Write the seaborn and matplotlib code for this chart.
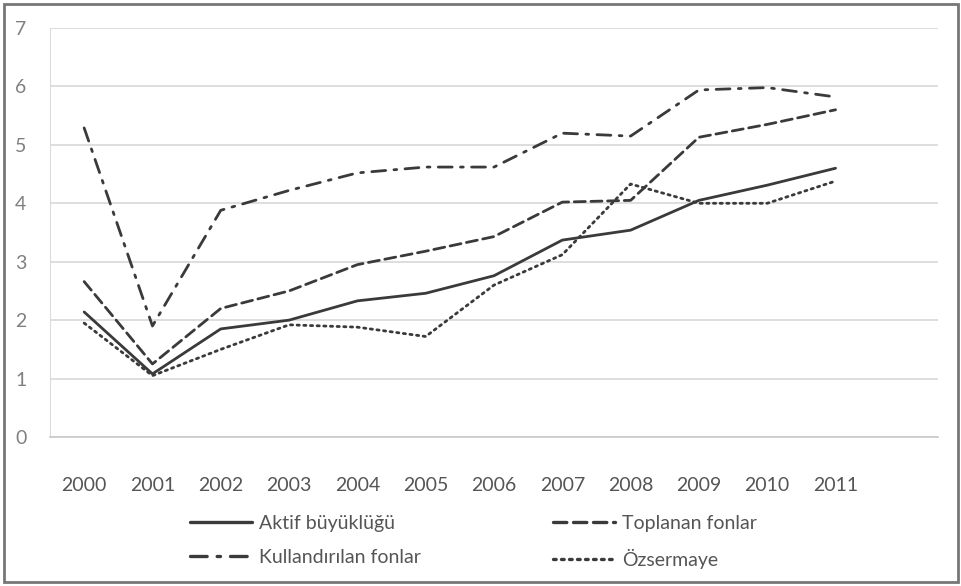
import matplotlib
matplotlib.use("Agg")
import matplotlib.pyplot as plt
from matplotlib.patches import Rectangle
import pandas as pd
import seaborn as sns

years = ["2000", "2001", "2002", "2003", "2004", "2005",
         "2006", "2007", "2008", "2009", "2010", "2011"]

aktif = [2.14, 1.08, 1.85, 2.0, 2.33, 2.46, 2.76, 3.37, 3.54, 4.05, 4.31, 4.6]
toplanan = [2.66, 1.25, 2.2, 2.5, 2.95, 3.18, 3.43, 4.02, 4.05, 5.13, 5.35, 5.6]
kullandirilan = [5.29, 1.9, 3.88, 4.22, 4.52, 4.62, 4.62, 5.2, 5.15, 5.94, 5.98, 5.82]
ozsermaye = [1.95, 1.05, 1.5, 1.92, 1.88, 1.72, 2.6, 3.12, 4.33, 4.0, 4.0, 4.38]

series_names = ["Aktif büyüklüğü", "Toplanan fonlar",
                "Kullandırılan fonlar", "Özsermaye"]

rows = []
for name, vals in zip(series_names, [aktif, toplanan, kullandirilan, ozsermaye]):
    for i, v in enumerate(vals):
        rows.append({"pos": i, "value": v, "series": name})
df = pd.DataFrame(rows)

sns.set_style("white")
plt.rcParams["font.family"] = ["Lato", "DejaVu Sans"]

fig = plt.figure(figsize=(9.62, 5.86), dpi=100)
ax = fig.add_axes([50 / 962, 1 - 437 / 586, 888 / 962, 409 / 586])

line_color = "#3a3a3a"
dashes = {
    "Aktif büyüklüğü": "",
    "Toplanan fonlar": (4, 2),
    "Kullandırılan fonlar": (5, 3, 1, 3),
    "Özsermaye": (0.8, 1.6),
}

sns.lineplot(
    data=df, x="pos", y="value", style="series",
    dashes=dashes, color=line_color, linewidth=2.0,
    style_order=series_names, legend=False, ax=ax
)

for ln in ax.get_lines():
    ln.set_dash_capstyle("round")

ax.set_xlim(-0.5, 12.5)
ax.set_ylim(0, 7)
ax.set_yticks(range(0, 8))
ax.set_xticks(range(len(years)))
ax.set_xticklabels(years)
ax.set_xlabel("")
ax.set_ylabel("")

ax.grid(axis="y", color="#d8d8d8", linewidth=1.2)
for side in ["top", "right"]:
    ax.spines[side].set_visible(False)
ax.spines["left"].set_color("#dcdcdc")
ax.spines["bottom"].set_color("#c8c8c8")
ax.spines["bottom"].set_linewidth(1.2)

ax.tick_params(axis="x", length=0, pad=29, labelsize=14, labelcolor="#555555")
ax.tick_params(axis="y", length=0, pad=17, labelsize=14, labelcolor="#808080")
ax.set_xticks([i - 0.5 for i in range(13)], minor=True)
ax.tick_params(axis="x", which="minor", length=4, color="#c8c8c8", direction="out")


def make_handle(name):
    if dashes[name]:
        h = plt.Line2D([], [], color=line_color, linewidth=2.4, dashes=dashes[name])
    else:
        h = plt.Line2D([], [], color=line_color, linewidth=2.4)
    h.set_dash_capstyle("round")
    return h


legend_cols = [(190, ["Aktif büyüklüğü", "Kullandırılan fonlar"]),
               (553, ["Toplanan fonlar", "Özsermaye"])]
for x0, names in legend_cols:
    leg = fig.legend(
        [make_handle(n) for n in names], names, loc="upper left",
        bbox_to_anchor=(x0 / 962, 1 - 515 / 586), frameon=False,
        borderpad=0, borderaxespad=0,
        handlelength=3.2, handletextpad=0.35, labelspacing=0.85,
        fontsize=14, labelcolor="#555555"
    )

fig.patches.append(Rectangle((4 / 962, 4 / 586), 954 / 962, 578 / 586,
                             transform=fig.transFigure, fill=False,
                             edgecolor="#777777", linewidth=2))

fig.savefig("out.png", dpi=100)
